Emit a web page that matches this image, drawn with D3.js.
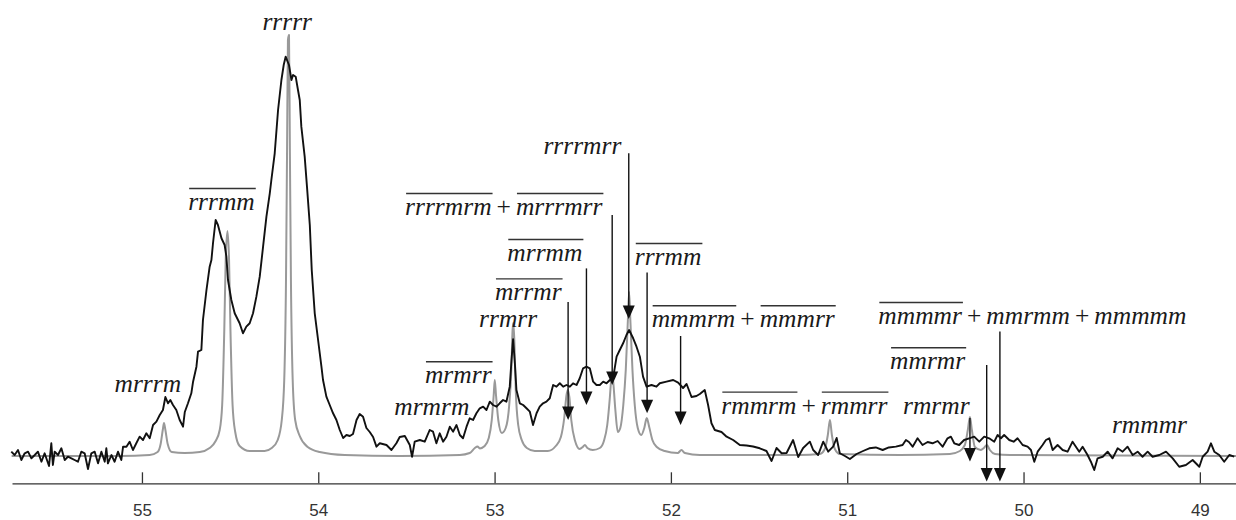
<!DOCTYPE html>
<html>
<head>
<meta charset="utf-8">
<script src="https://cdn.jsdelivr.net/npm/d3@7"></script>
<style>
  html, body { margin: 0; padding: 0; background: #fff; }
  svg { display: block; }
</style>
</head>
<body>
<svg id="chart" width="1236" height="520"></svg>
<script>
// 13C NMR methine region: experimental spectrum (black) and simulated spectrum (grey)

const ppmTicks = [55, 54, 53, 52, 51, 50, 49];

// simulated spectrum [ppm, intensity]
const simulated = [
  [55.739,0],[55.126,0],[54.956,0.25],[54.911,1],[54.894,3],[54.882,6.5],[54.875,8.25],[54.867,6.5],[54.854,3],[54.831,1],
  [54.758,0.75],[54.672,1],[54.616,2],[54.582,3.75],[54.559,6.5],[54.545,12.75],[54.533,31.5],[54.525,49],[54.515,56.25],[54.506,49],
  [54.498,31.5],[54.486,12.75],[54.471,6],[54.446,2.5],[54.389,1.25],[54.304,1.25],[54.264,2],[54.230,4],[54.207,9],[54.193,19],
  [54.183,44],[54.177,76.5],[54.172,104],[54.166,105.25],[54.161,76.5],[54.155,44],[54.145,19],[54.131,9],[54.105,5],[54.060,2.25],
  [53.992,1],[53.850,0.25],[53.538,0],[53.197,0.25],[53.141,0.75],[53.112,2],[53.097,2.4],[53.084,1.9],[53.056,2.5],[53.033,4.5],
  [53.016,9],[53.005,15.25],[52.999,19],[52.992,15.25],[52.979,9],[52.959,5.75],[52.937,7],[52.917,12.75],[52.905,21.5],[52.898,31.5],
  [52.894,33.25],[52.888,29],[52.880,16.5],[52.866,7.75],[52.846,4],[52.817,2],[52.772,1.25],[52.698,1.25],[52.653,2.5],[52.624,4.75],
  [52.605,9.5],[52.592,15.25],[52.585,16.5],[52.576,14.75],[52.565,9],[52.545,4],[52.517,1.75],[52.500,2.25],[52.488,2.75],[52.474,2],
  [52.443,1.5],[52.403,2],[52.380,3.75],[52.361,7.75],[52.346,14.75],[52.338,19.5],[52.333,20.75],[52.327,18.5],[52.315,11.5],[52.301,6],
  [52.287,7],[52.270,12.75],[52.256,21.5],[52.244,34],[52.237,41],[52.230,34],[52.218,21.5],[52.205,12.75],[52.188,7],[52.168,5.25],
  [52.151,7],[52.137,9.5],[52.123,7.25],[52.105,4],[52.080,2.25],[52.035,1.25],[51.961,0.75],[51.940,1.5],[51.921,0.75],[51.836,0.25],
  [51.269,0.25],[51.155,0.5],[51.127,1.75],[51.110,5.25],[51.098,9],[51.087,5.25],[51.070,1.75],[51.042,0.5],[50.701,0.25],[50.418,0.5],
  [50.361,1.25],[50.333,2.75],[50.316,6.5],[50.304,9.75],[50.293,6.5],[50.276,2.25],[50.242,1.5],[50.225,2],[50.208,2.75],[50.191,1.5],
  [50.162,0.5],[50.077,0.25],[48.795,0]
];

// experimental spectrum [ppm, intensity]
const experimental = [
  [55.741,1.08],[55.722,0.25],[55.703,1.5],[55.684,-1],[55.665,0.68],[55.646,1.08],[55.627,-0.58],[55.608,0.25],[55.590,1.08],[55.570,-1.43],
  [55.552,0.68],[55.527,-2.5],[55.514,3.18],[55.505,-2.25],[55.495,1.08],[55.476,0.25],[55.457,1.93],[55.438,-1],[55.420,-0.18],[55.400,-0.58],
  [55.382,-1],[55.363,-1.43],[55.344,1.08],[55.325,0.68],[55.306,-3.25],[55.287,0.68],[55.268,1.08],[55.249,-1.83],[55.230,1.08],[55.211,-1.43],
  [55.202,1.93],[55.193,-1.83],[55.173,0.25],[55.155,-1.43],[55.136,1.08],[55.117,-1],[55.107,2.33],[55.088,2.33],[55.070,3.58],[55.051,1.5],
  [55.032,3.18],[55.013,4.83],[54.994,4],[54.975,5.68],[54.956,4.43],[54.937,7.75],[54.918,8.58],[54.899,10.25],[54.881,11.5],[54.867,14.75],
  [54.852,13.18],[54.839,14],[54.824,12.75],[54.805,11.5],[54.786,9],[54.767,7.33],[54.757,11],[54.739,13.18],[54.720,15.68],[54.710,18.58],
  [54.691,22.33],[54.682,26.08],[54.663,26.5],[54.654,34],[54.634,41.5],[54.616,47.33],[54.606,49],[54.597,53.18],[54.582,59],[54.569,57.75],
  [54.549,54.43],[54.531,52.75],[54.521,49.83],[54.512,44],[54.493,39],[54.474,35.68],[54.446,33.18],[54.427,30.68],[54.408,32.33],[54.389,33.18],
  [54.370,35.68],[54.351,39.83],[54.332,44.83],[54.313,52.33],[54.294,59.83],[54.275,65.68],[54.266,69],[54.247,75.68],[54.228,86.5],[54.209,94],
  [54.196,97.75],[54.185,99.83],[54.166,97.75],[54.152,94],[54.143,95.25],[54.128,94.83],[54.115,91.5],[54.105,89],[54.096,82.33],[54.077,74.83],
  [54.064,67.33],[54.048,57.75],[54.037,46.5],[54.020,35.68],[54.001,29],[53.982,22.33],[53.973,19],[53.954,14.83],[53.935,12.75],[53.916,10.68],
  [53.897,9],[53.878,6.5],[53.859,4.5],[53.840,5.25],[53.821,5],[53.803,5.5],[53.783,9],[53.765,10.5],[53.746,9.83],[53.727,7],
  [53.708,6],[53.689,4.75],[53.670,2.33],[53.651,3.18],[53.613,2.75],[53.585,1.5],[53.557,3.18],[53.538,4.75],[53.509,5],[53.481,2.75],
  [53.468,-0.18],[53.453,3.58],[53.424,4],[53.396,3.58],[53.368,6.5],[53.349,6.08],[53.330,3.18],[53.311,5.68],[53.292,3.58],[53.273,4.83],
  [53.254,7.33],[53.235,6.08],[53.216,7.75],[53.197,5.25],[53.179,4.43],[53.159,7.33],[53.141,9.43],[53.122,9],[53.103,10.68],[53.084,11.93],
  [53.065,12.33],[53.046,11.5],[53.027,13.58],[53.009,12.75],[52.989,12.33],[52.971,13.18],[52.952,14],[52.933,13.58],[52.914,17.33],[52.904,24],
  [52.895,29.18],[52.885,23.18],[52.876,16.5],[52.857,13.18],[52.838,12.75],[52.819,11.93],[52.800,11.08],[52.782,7.75],[52.762,10.68],[52.744,12.33],
  [52.725,13.18],[52.706,13.58],[52.687,14.43],[52.668,17.75],[52.649,17.33],[52.630,18.18],[52.611,17.33],[52.592,17.75],[52.573,17.33],[52.555,18.18],
  [52.535,17.75],[52.517,19.43],[52.498,21.93],[52.479,22.33],[52.460,21.93],[52.441,18.58],[52.422,17.75],[52.403,17.75],[52.384,18.58],[52.365,18.18],
  [52.346,19],[52.328,19.43],[52.308,24.83],[52.290,26.5],[52.271,28.18],[52.252,30.25],[52.237,31.5],[52.214,29.43],[52.195,27.33],[52.176,24.83],
  [52.158,19.83],[52.138,17.33],[52.110,17.75],[52.082,17.33],[52.063,18.18],[52.025,18.58],[51.987,19],[51.959,18.33],[51.931,17],[51.911,18],
  [51.883,14.75],[51.855,15],[51.836,15.5],[51.808,16.5],[51.789,12.75],[51.770,8.18],[51.751,6.5],[51.713,6],[51.684,4.83],[51.647,4],
  [51.609,2.75],[51.571,2.63],[51.534,2.38],[51.496,1.93],[51.458,1.25],[51.429,-1.25],[51.401,2],[51.372,0.68],[51.344,0.75],[51.307,4],
  [51.278,-0.25],[51.250,2],[51.212,3.58],[51.193,1.5],[51.165,0.25],[51.136,3.58],[51.108,1.08],[51.080,2.33],[51.060,4.5],[51.042,0.68],
  [51.013,0],[50.985,-0.75],[50.947,0.5],[50.910,1.25],[50.875,1.93],[50.838,2.13],[50.799,1.5],[50.764,2.13],[50.724,2.33],[50.686,2.75],
  [50.667,4],[50.650,3.5],[50.629,2.33],[50.601,4.43],[50.573,2.75],[50.544,3.5],[50.516,3.18],[50.487,3.75],[50.459,2.33],[50.431,4.43],
  [50.412,4.83],[50.393,3.18],[50.365,2.75],[50.337,4],[50.308,4.43],[50.280,4.83],[50.251,3.58],[50.223,4.83],[50.195,4.43],[50.166,3.58],
  [50.147,5.25],[50.128,4.43],[50.110,5.25],[50.081,4],[50.056,3.58],[50.034,4.43],[50.005,2.75],[49.977,2.33],[49.958,1.5],[49.939,-1.43],
  [49.920,1.08],[49.892,2.75],[49.873,4],[49.854,4.43],[49.835,1.5],[49.807,2.75],[49.778,1.5],[49.750,1.08],[49.722,3.58],[49.703,2.33],
  [49.684,1.08],[49.665,2.33],[49.637,0.25],[49.618,-1.43],[49.599,-3.5],[49.580,-0.58],[49.551,-0.18],[49.523,1.08],[49.495,-0.58],[49.466,1.93],
  [49.438,1.08],[49.410,2.33],[49.381,0.25],[49.353,1.08],[49.325,-0.18],[49.296,1.08],[49.268,-0.18],[49.230,0.25],[49.192,1.08],[49.154,-0.58],
  [49.117,-2.68],[49.079,-2.25],[49.041,-1],[49.003,-2.68],[48.984,-0.18],[48.956,1.08],[48.937,3.18],[48.918,1.08],[48.890,0.25],[48.862,-1.43],
  [48.833,0.25],[48.805,-0.18]
];

// sequence assignments: terms (bar = overlined), anchor ppm and baseline level
const assignments = [
  { terms: [{ t: "rrrrr" }], ppm: 54.176, level: 106.5 },
  { terms: [{ t: "rrrmm", bar: true }], ppm: 54.549, level: 61.5 },
  { terms: [{ t: "mrrrm" }], ppm: 54.967, level: 15.9 },
  { terms: [{ t: "mrmrm" }], ppm: 53.356, level: 10.25 },
  { terms: [{ t: "mrmrr", bar: true }], ppm: 53.206, level: 18.2 },
  { terms: [{ t: "rrmrr" }], ppm: 52.923, level: 32.2 },
  { terms: [{ t: "mrrmr", bar: true }], ppm: 52.809, level: 38.9 },
  { terms: [{ t: "mrrmm", bar: true }], ppm: 52.715, level: 48.75 },
  { terms: [{ t: "rrrrmrm", bar: true }, { t: "mrrrmrr", bar: true }], ppm: 52.948, level: 60.25 },
  { terms: [{ t: "rrrrmrr" }], ppm: 52.502, level: 75.6 },
  { terms: [{ t: "rrrmm", bar: true }], ppm: 52.016, level: 47.75 },
  { terms: [{ t: "mmmrm", bar: true }, { t: "mmmrr", bar: true }], ppm: 51.590, level: 32.2 },
  { terms: [{ t: "rmmrm", bar: true }, { t: "rmmrr", bar: true }], ppm: 51.243, level: 10.6 },
  { terms: [{ t: "rmrmr" }], ppm: 50.495, level: 10.5 },
  { terms: [{ t: "mmrmr", bar: true }], ppm: 50.544, level: 21.7 },
  { terms: [{ t: "mmmmr", bar: true }, { t: "mmrmm" }, { t: "mmmmm" }], ppm: 49.950, level: 33 },
  { terms: [{ t: "rmmmr" }], ppm: 49.286, level: 5.7 }
];

// pointer arrows: ppm position, start level, tip level
const pointers = [
  { ppm: 52.583, from: 38.5, to: 9 },
  { ppm: 52.479, from: 46.9, to: 12.75 },
  { ppm: 52.333, from: 60.25, to: 17.75 },
  { ppm: 52.239, from: 75.7, to: 34.25 },
  { ppm: 52.135, from: 45.9, to: 10.7 },
  { ppm: 51.945, from: 30, to: 7.75 },
  { ppm: 50.304, from: 9.5, to: -1.4 },
  { ppm: 50.209, from: 22.75, to: -6.4 },
  { ppm: 50.134, from: 31.1, to: -6.4 }
];

const W = 1236, H = 520;
const svg = d3.select("#chart");
svg.append("rect").attr("width", W).attr("height", H).attr("fill", "#fff");

const x = d3.scaleLinear().domain([55.737, 48.795]).range([12, 1236]);
const y = d3.scaleLinear().domain([0, 100]).range([456, 56]);

// chemical shift axis
const axis = d3.axisBottom(x)
  .tickValues(ppmTicks)
  .tickFormat(d3.format("d"))
  .tickSizeInner(-11)
  .tickSizeOuter(0)
  .tickPadding(21);

svg.append("g")
  .attr("transform", "translate(0,483.3)")
  .call(axis)
  .call(g => {
    g.select(".domain").attr("stroke", "#333").attr("stroke-width", 1.3);
    g.selectAll(".tick line").attr("stroke", "#333").attr("stroke-width", 1.3);
    g.selectAll(".tick text")
      .attr("font-family", "'Liberation Sans', Arial, sans-serif")
      .attr("font-size", 17)
      .attr("fill", "#333");
  });

// spectra
svg.append("path")
  .datum(simulated)
  .attr("fill", "none")
  .attr("stroke", "#999")
  .attr("stroke-width", 2)
  .attr("stroke-linejoin", "round")
  .attr("d", d3.line().x(d => x(d[0])).y(d => y(d[1])).curve(d3.curveMonotoneX));

svg.append("path")
  .datum(experimental)
  .attr("fill", "none")
  .attr("stroke", "#111")
  .attr("stroke-width", 1.9)
  .attr("stroke-linejoin", "round")
  .attr("d", d3.line().x(d => x(d[0])).y(d => y(d[1])));

// arrows
const arrowG = svg.append("g");
pointers.forEach(p => {
  const px = x(p.ppm), y0 = y(p.from), y1 = y(p.to);
  arrowG.append("line")
    .attr("x1", px).attr("x2", px)
    .attr("y1", y0).attr("y2", y1 - 10)
    .attr("stroke", "#111").attr("stroke-width", 1.4);
  arrowG.append("path")
    .attr("d", `M${px},${y1} L${px - 6},${y1 - 13.5} L${px + 6},${y1 - 13.5} Z`)
    .attr("fill", "#111");
});

// sequence labels
const labelG = svg.append("g");
const fontSize = 25.5;
const serif = "'Liberation Serif', 'Times New Roman', serif";
assignments.forEach(a => {
  const g = labelG.append("g");
  let cursor = 0;
  a.terms.forEach((term, i) => {
    if (i > 0) {
      cursor += 5;
      const plus = g.append("text")
        .attr("x", cursor).attr("y", 0)
        .attr("font-family", serif)
        .attr("font-size", fontSize)
        .attr("fill", "#1a1a1a")
        .text("+");
      cursor += plus.node().getComputedTextLength() + 5;
    }
    const txt = g.append("text")
      .attr("x", cursor).attr("y", 0)
      .attr("font-family", serif)
      .attr("font-style", "italic")
      .attr("font-size", fontSize)
      .attr("fill", "#1a1a1a")
      .text(term.t);
    const w = txt.node().getComputedTextLength();
    if (term.bar) {
      g.append("line")
        .attr("x1", cursor + 1).attr("x2", cursor + w + 1)
        .attr("y1", -21.5).attr("y2", -21.5)
        .attr("stroke", "#333").attr("stroke-width", 1.4);
    }
    cursor += w;
  });
  g.attr("transform", `translate(${x(a.ppm) - cursor / 2},${y(a.level)})`);
});
</script>
</body>
</html>
